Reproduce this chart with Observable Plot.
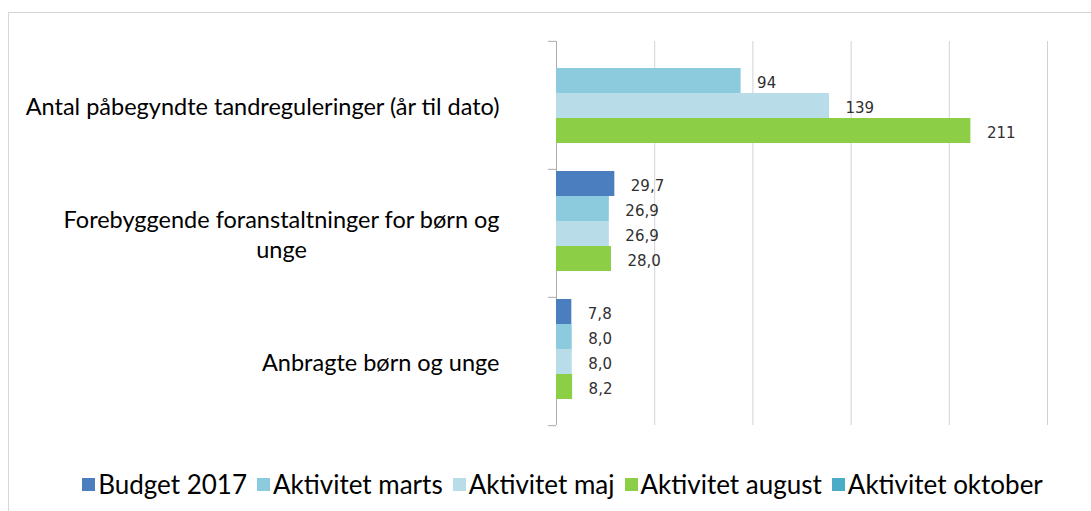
<!DOCTYPE html>
<html>
<head>
<meta charset="utf-8">
<script src="https://cdn.jsdelivr.net/npm/d3@7"></script>
<script src="https://cdn.jsdelivr.net/npm/@observablehq/plot@0.6"></script>
<style>
  html, body { margin: 0; padding: 0; background: #fff; width: 1091px; height: 511px; overflow: hidden; }
  #frame { position: absolute; left: 8px; top: 12px; width: 2000px; height: 2000px; border: 1px solid #d3d8d6; box-sizing: border-box; }
  #chart { position: absolute; left: 0; top: 0; }
  #legend { position: absolute; left: 0; top: 468px; width: 1125px; display: flex; justify-content: center; align-items: center;
            font-family: Lato, "Noto Sans", sans-serif; font-size: 26px; color: #000; }
  .item { display: flex; align-items: center; margin: 0 5px; white-space: nowrap; }
  .sw { width: 13px; height: 13px; margin-right: 3px; display: inline-block; }
</style>
</head>
<body>
<div id="frame"></div>
<div id="chart"></div>
<div id="legend"></div>
<script>
// ---- data ----
const categories = [
  "Antal påbegyndte tandreguleringer (år til dato)",
  "Forebyggende foranstaltninger for børn og unge",
  "Anbragte børn og unge"
];
const categoryLines = [
  ["Antal påbegyndte tandreguleringer (år til dato)"],
  ["Forebyggende foranstaltninger for børn og", "unge"],
  ["Anbragte børn og unge"]
];
const series = ["Budget 2017", "Aktivitet marts", "Aktivitet maj", "Aktivitet august", "Aktivitet oktober"];
const colors = ["#4a7ebf", "#8ccbdd", "#b8dde8", "#8ccf46", "#4aacc6"];
const budget2017 = [null, 29.7, 7.8];
const aktivitetMarts = [94, 26.9, 8.0];
const aktivitetMaj = [139, 26.9, 8.0];
const aktivitetAugust = [211, 28.0, 8.2];
const aktivitetOktober = [null, null, null];
const decimals = [0, 1, 1];
const xTicks = [0, 50, 100, 150, 200, 250];

const seriesValues = [budget2017, aktivitetMarts, aktivitetMaj, aktivitetAugust, aktivitetOktober];
const data = [];
categories.forEach((c, ci) => {
  series.forEach((s, si) => {
    const v = seriesValues[si][ci];
    if (v != null) data.push({category: c, series: s, value: v, label: v.toFixed(decimals[ci]).replace(".", ",")});
  });
});

// ---- layout ----
const W = 1091, H = 440, mt = 40, mb = 15, ml = 556, mr = 44;
const facetH = (H - mt - mb) / categories.length;
const labelOf = c => categoryLines[categories.indexOf(c)].join("\n");

const chart = Plot.plot({
  width: W, height: H,
  marginTop: mt, marginBottom: mb, marginLeft: ml, marginRight: mr,
  x: {domain: [0, 250], axis: null},
  y: {domain: series, padding: 0, axis: null},
  fy: {domain: categories, padding: 0, axis: null, label: null},
  color: {domain: series, range: colors},
  marks: [
    Plot.gridX(xTicks.slice(1), {stroke: "#cfd3d8", strokeOpacity: 1}),
    Plot.ruleX([0], {stroke: "#a9adb0"}),
    Plot.axisFy({anchor: "left", label: null, tickSize: 8, text: null, stroke: "#a9adb0", dy: -facetH / 2}),
    Plot.axisFy({anchor: "left", label: null, ticks: categories.slice(-1), tickSize: 8, text: null, stroke: "#a9adb0", dy: facetH / 2}),
    Plot.axisFy({anchor: "left", label: null, tickSize: 0, tickPadding: 57, tickFormat: labelOf,
                 fontSize: 23.5, fontFamily: "Lato, 'Noto Sans', sans-serif", fill: "#000", lineHeight: 1.25}),
    Plot.barX(data, {fy: "category", y: "series", x: "value", fill: "series"}),
    Plot.text(data, {fy: "category", y: "series", x: "value", text: "label", textAnchor: "start", dx: 16, dy: 2,
                     fontSize: 15, fontFamily: "'DejaVu Sans', Verdana, sans-serif", fill: "#303030"})
  ]
});
chart.style.fontFamily = "Lato, sans-serif";
document.getElementById("chart").appendChild(chart);

// center continuation lines of wrapped category labels under their first line
d3.select(chart).selectAll("text").each(function() {
  const tspans = this.querySelectorAll("tspan");
  if (tspans.length > 1) {
    let maxW = 0;
    tspans.forEach(t => { maxW = Math.max(maxW, t.getComputedTextLength()); });
    this.setAttribute("text-anchor", "middle");
    tspans.forEach(t => t.setAttribute("x", -maxW / 2));
  }
});

// legend
const lg = d3.select("#legend");
series.forEach((s, i) => {
  const it = lg.append("div").attr("class", "item");
  it.append("span").attr("class", "sw").style("background", colors[i]);
  it.append("span").text(s);
});
</script>
</body>
</html>
